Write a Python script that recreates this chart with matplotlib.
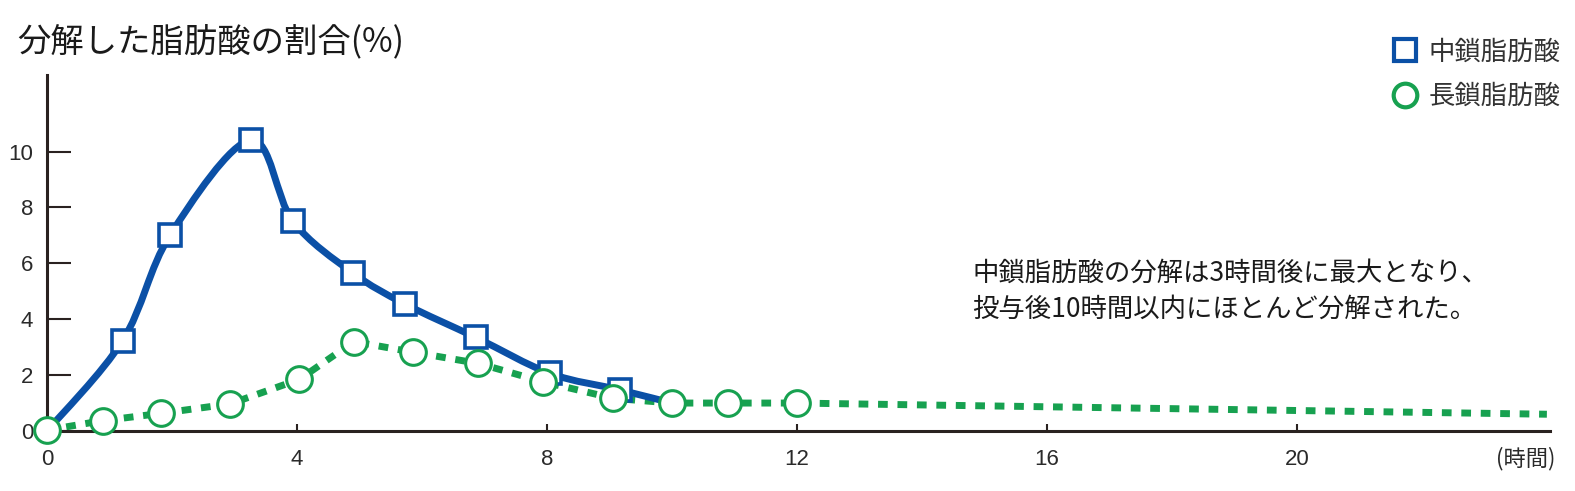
import matplotlib
matplotlib.use("Agg")
import matplotlib.pyplot as plt
import numpy as np
from matplotlib.path import Path
from matplotlib.patches import PathPatch
from matplotlib.lines import Line2D

plt.rcParams['font.family'] = ['Noto Sans CJK JP', 'DejaVu Sans']

# ---- data ----
mct_hours = [0.0, 1.21, 1.97, 3.26, 3.93, 4.89, 5.73, 6.86, 8.05, 9.17, 10.0]
mct_values = [0.0, 3.23, 7.01, 10.41, 7.52, 5.66, 4.54, 3.35, 2.06, 1.47, 1.0]
lct_hours = [0.0, 0.89, 1.82, 2.93, 4.04, 4.91, 5.86, 6.9, 7.94, 9.06, 10.0, 10.9, 12.0, 24.0]
lct_values = [0.03, 0.37, 0.63, 0.97, 1.85, 3.2, 2.82, 2.42, 1.76, 1.17, 1.0, 1.0, 1.0, 0.6]
lct_marked = 13  # markers on the first 13 points only
x_ticks = [0, 4, 8, 12, 16, 20]
y_ticks = [0, 2, 4, 6, 8, 10]
legend_labels = ['中鎖脂肪酸', '長鎖脂肪酸']
title = '分解した脂肪酸の割合(%)'
note = '中鎖脂肪酸の分解は3時間後に最大となり、\n投与後10時間以内にほとんど分解された。'
x_unit = '(時間)'

BLUE = '#0b50a6'
GREEN = '#17a150'
AXC = '#2a2220'

fig = plt.figure(figsize=(15.75, 4.91), dpi=100)
ax = fig.add_axes([47 / 1575, 60 / 491, 1503 / 1575, 356 / 491])
ax.set_xlim(0, 24.05)
ax.set_ylim(0, 12.74)

# green dotted line (beneath)
ax.plot(lct_hours, lct_values, color=GREEN, lw=5, dashes=(1.4, 1.4),
        dash_capstyle='butt', zorder=2)


def catmull_rom_path(xs, ys):
    pts = np.column_stack([xs, ys])
    n = len(pts)
    verts = [pts[0]]
    codes = [Path.MOVETO]
    for i in range(n - 1):
        p0 = pts[i - 1] if i > 0 else pts[i]
        p1 = pts[i]
        p2 = pts[i + 1]
        p3 = pts[i + 2] if i + 2 < n else pts[i + 1]
        c1 = p1 + (p2 - p0) / 6.0
        c2 = p2 - (p3 - p1) / 6.0
        verts += [c1, c2, p2]
        codes += [Path.CURVE4] * 3
    return Path(verts, codes)


blue_path = catmull_rom_path(mct_hours, mct_values)
ax.add_patch(PathPatch(blue_path, facecolor='none', edgecolor=BLUE, lw=5,
                       capstyle='butt', joinstyle='round', zorder=3))
ax.plot(mct_hours[1:-1], mct_values[1:-1], ls='none', marker='s', ms=15.5,
        mfc='white', mec=BLUE, mew=2.6, zorder=4)
ax.plot(lct_hours[:lct_marked], lct_values[:lct_marked], ls='none', marker='o',
        ms=18.5, mfc='white', mec=GREEN, mew=2.2, zorder=5, clip_on=False)

# axes styling
for s in ['top', 'right']:
    ax.spines[s].set_visible(False)
for s in ['left', 'bottom']:
    ax.spines[s].set_linewidth(2.2)
    ax.spines[s].set_color(AXC)
ax.set_xticks(x_ticks)
ax.set_yticks(y_ticks)
ax.tick_params(axis='y', direction='in', length=17, width=1.5, color=AXC,
               pad=10, labelsize=16, labelcolor='#2a2a2a')
ax.tick_params(axis='x', direction='in', length=5, width=1.5, color=AXC,
               pad=13, labelsize=16, labelcolor='#2a2a2a')
for lab in ax.get_xticklabels() + ax.get_yticklabels():
    lab.set_family(['Liberation Sans', 'DejaVu Sans'])

ax.text(1526 / 1575, 1 - 459 / 491, x_unit, transform=fig.transFigure,
        ha='center', va='center', fontsize=16, color='#2a2a2a')

fig.text(17 / 1575, 1 - 42 / 491, title, ha='left', va='center',
         fontsize=24, color='#1a1a1a')

fig.text(972 / 1575, 1 - 291 / 491, note, ha='left', va='center',
         fontsize=19, color='#1a1a1a', linespacing=1.42)

handles = [
    Line2D([], [], ls='none', marker='s', ms=16, mfc='white', mec=BLUE, mew=3),
    Line2D([], [], ls='none', marker='o', ms=17, mfc='white', mec=GREEN, mew=3),
]
fig.legend(handles, legend_labels, loc='upper right',
           bbox_to_anchor=(1571 / 1575, 1 - 28 / 491), frameon=False,
           fontsize=19, labelcolor='#333333', handlelength=1.0,
           handletextpad=0.4, labelspacing=0.66, borderaxespad=0)

fig.savefig('out.png', dpi=100)
